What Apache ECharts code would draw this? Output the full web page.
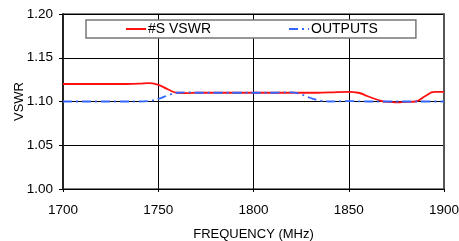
<!DOCTYPE html>
<html>
<head>
<meta charset="utf-8">
<script src="https://cdn.jsdelivr.net/npm/echarts@6/dist/echarts.min.js"></script>
<style>
  html, body { margin: 0; padding: 0; background: #fff; }
  #chart { width: 459px; height: 241px; }
</style>
</head>
<body>
<div id="chart"></div>
<script>
var freqVswr = [1700, 1710, 1720, 1730, 1740, 1745, 1750, 1755, 1760, 1765, 1770, 1780, 1790, 1800, 1810, 1820, 1830, 1840, 1850, 1855, 1860, 1865, 1870, 1875, 1880, 1885, 1890, 1895, 1900];
var vswr = [1.120, 1.120, 1.120, 1.120, 1.1205, 1.121, 1.119, 1.114, 1.110, 1.1095, 1.110, 1.110, 1.110, 1.110, 1.110, 1.110, 1.110, 1.1105, 1.111, 1.110, 1.106, 1.102, 1.0995, 1.099, 1.0995, 1.100, 1.106, 1.111, 1.111];

var freqOut = [1700, 1710, 1720, 1730, 1740, 1745, 1750, 1755, 1760, 1765, 1770, 1780, 1790, 1800, 1810, 1815, 1820, 1825, 1830, 1835, 1840, 1850, 1860, 1870, 1880, 1890, 1900];
var outputs = [1.100, 1.100, 1.100, 1.100, 1.100, 1.1005, 1.103, 1.107, 1.110, 1.1105, 1.110, 1.110, 1.110, 1.110, 1.110, 1.1105, 1.1105, 1.108, 1.104, 1.101, 1.100, 1.1005, 1.100, 1.100, 1.100, 1.100, 1.100];

var seriesNames = ['#S VSWR', 'OUTPUTS'];
var xTicks = [1700, 1900, 50];
var yTicks = [1.00, 1.20, 0.05];

function pairs(xs, ys) {
    return xs.map(function (x, i) { return [x, ys[i]]; });
}

var font = 'Liberation Sans, Arial, sans-serif';
var myChart = echarts.init(document.getElementById('chart'));

var option = {
    animation: false,
    textStyle: { fontFamily: font },
    grid: {
        left: 63, right: 15, top: 14, bottom: 52,
        containLabel: false,
        outerBoundsMode: 'none',
        show: true, borderColor: '#000', borderWidth: 1
    },
    legend: {
        left: 86, top: 20,
        padding: [2, 38, 2, 39],
        itemGap: 77,
        itemWidth: 20, itemHeight: 14,
        backgroundColor: '#fff',
        borderColor: '#777', borderWidth: 1.5,
        itemStyle: { opacity: 0 },
        textStyle: { fontFamily: font, fontSize: 14, color: '#000', padding: [0, 0, 0, -3] },
        data: seriesNames
    },
    xAxis: {
        type: 'value',
        min: xTicks[0], max: xTicks[1], interval: xTicks[2],
        name: 'FREQUENCY (MHz)',
        nameLocation: 'middle', nameGap: 39,
        nameMoveOverlap: false,
        nameTextStyle: { fontFamily: font, fontSize: 13, color: '#000' },
        axisLine: { lineStyle: { color: '#000', width: 1 } },
        axisTick: { show: true, length: 3, lineStyle: { color: '#000' } },
        axisLabel: {
            fontFamily: font, fontSize: 13.5, color: '#000', margin: 14,
            formatter: function (v) { return String(v); }
        },
        splitLine: { show: true, lineStyle: { color: '#000', width: 1 } }
    },
    yAxis: [{
        type: 'value',
        min: yTicks[0], max: yTicks[1], interval: yTicks[2],
        name: 'VSWR',
        nameLocation: 'middle', nameGap: 37,
        nameMoveOverlap: false,
        nameTextStyle: { fontFamily: font, fontSize: 13, color: '#000' },
        axisLine: { show: true, lineStyle: { color: '#222', width: 2 } },
        axisTick: { show: true, length: 4, lineStyle: { color: '#000' } },
        axisLabel: {
            fontFamily: font, fontSize: 13.5, color: '#000', margin: 10,
            formatter: function (v) { return v.toFixed(2); }
        },
        splitLine: { show: true, lineStyle: { color: '#000', width: 1 } }
    }, {
        type: 'value',
        position: 'right',
        min: yTicks[0], max: yTicks[1], interval: yTicks[2],
        axisLine: { show: true, lineStyle: { color: '#555', width: 2 } },
        axisTick: { show: false },
        axisLabel: { show: false },
        splitLine: { show: false }
    }],
    series: [{
        name: seriesNames[0],
        type: 'line',
        data: pairs(freqVswr, vswr),
        smooth: 0.5,
        showSymbol: false,
        symbol: 'none',
        color: '#ff1010',
        lineStyle: { color: '#ff1010', width: 1.8 },
        z: 3
    }, {
        name: seriesNames[1],
        type: 'line',
        data: pairs(freqOut, outputs),
        smooth: 0.5,
        showSymbol: false,
        symbol: 'none',
        color: '#3366ff',
        lineStyle: { color: '#3366ff', width: 1.8, type: [9, 4, 2, 4] },
        z: 4
    }]
};

myChart.setOption(option);
window.onresize = myChart.resize;
</script>
</body>
</html>
